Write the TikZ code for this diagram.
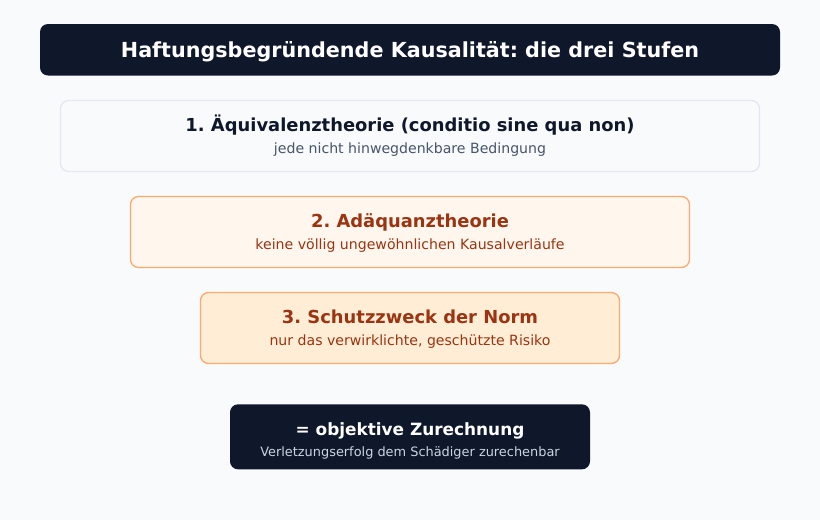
\documentclass[tikz,border=0pt]{standalone}
\usepackage{fontspec}
\setmainfont{DejaVu Sans}
\frenchspacing
\definecolor{bgc}{HTML}{F8FAFC}
\definecolor{navy}{HTML}{0F172A}
\definecolor{slateline}{HTML}{E2E8F0}
\definecolor{slatesub}{HTML}{475569}
\definecolor{orline}{HTML}{FDAA6E}
\definecolor{orfillA}{HTML}{FFF7ED}
\definecolor{orfillB}{HTML}{FFEDD5}
\definecolor{ortext}{HTML}{9A3412}
\definecolor{lightsub}{HTML}{CBD5E1}
\tikzset{
  panel/.style={rounded corners=8pt, line width=1.3pt},
  ttl/.style={anchor=base, inner sep=0pt, font=\frenchspacing\fontsize{17.9}{20}\selectfont\bfseries},
  sub/.style={anchor=base, inner sep=0pt, font=\frenchspacing\fontsize{14.1}{16}\selectfont},
}
\begin{document}
\begin{tikzpicture}[x=1pt,y=-1pt]
\useasboundingbox (0,0) rectangle (820,520);
\fill[bgc] (0,0) rectangle (820,520);
% header
\fill[navy, rounded corners=8pt] (40,24) rectangle (780,75.5);
\node[anchor=base, inner sep=0pt, text=white, font=\frenchspacing\fontsize{20.7}{24}\selectfont\bfseries] (head) at (410,57) {Haftungsbegründende Kausalität: die drei Stufen};
% box 1
\draw[panel, draw=slateline, fill=bgc] (60.5,100.5) rectangle (759.5,171.5);
\node[ttl, text=navy] (t1) at (410,131.5) {1. Äquivalenztheorie (conditio sine qua non)};
\node[sub, text=slatesub] (s1) at (410,153.5) {jede nicht hinwegdenkbare Bedingung};
% box 2
\draw[panel, draw=orline, fill=orfillA] (130.5,196.5) rectangle (689.5,267.5);
\node[ttl, text=ortext] (t2) at (410,227.3) {2. Adäquanztheorie};
\node[sub, text=ortext] (s2) at (410,249.7) {keine völlig ungewöhnlichen Kausalverläufe};
% box 3
\draw[panel, draw=orline, fill=orfillB] (200.5,292.5) rectangle (619.5,363.5);
\node[ttl, text=ortext] (t3) at (410,323.3) {3. Schutzzweck der Norm};
\node[sub, text=ortext] (s3) at (410,345.7) {nur das verwirklichte, geschützte Risiko};
% result
\fill[navy, rounded corners=8pt] (230,404.3) rectangle (590,469.3);
\node[anchor=base, inner sep=0pt, text=white, font=\frenchspacing\fontsize{16.9}{20}\selectfont\bfseries] (t4) at (410,435) {= objektive Zurechnung};
\node[anchor=base, inner sep=0pt, text=lightsub, font=\frenchspacing\fontsize{12.9}{15}\selectfont] (s4) at (410,456.7) {Verletzungserfolg dem Schädiger zurechenbar};
\end{tikzpicture}
\end{document}
